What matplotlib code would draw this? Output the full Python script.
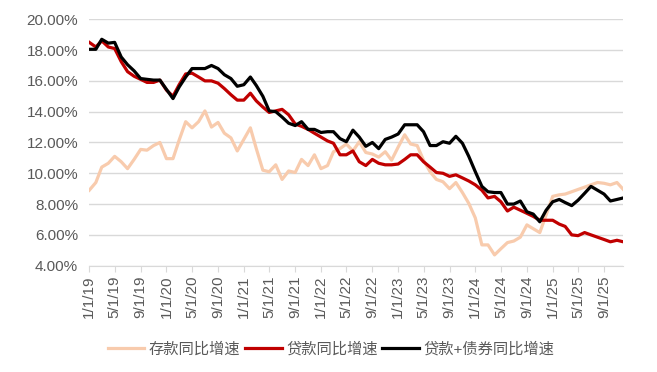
import pandas as pd
import matplotlib as mpl; mpl.use('agg')
import matplotlib.pyplot as plt

plt.rcParams['font.family'] = ['Liberation Sans', 'Noto Sans CJK SC', 'DejaVu Sans']
plt.rcParams['font.size'] = 11

months = pd.date_range('2019-01-01', periods=84, freq='MS')

deposits = [8.9, 9.4, 10.4, 10.65, 11.1, 10.75, 10.3, 10.9, 11.55, 11.5, 11.8, 12.0,
            10.95, 10.95, 12.15, 13.35, 12.95, 13.35, 14.05, 13.0, 13.3, 12.6, 12.3, 11.45,
            12.2, 12.95, 11.6, 10.2, 10.1, 10.55, 9.6, 10.15, 10.05, 10.9, 10.5, 11.2,
            10.3, 10.5, 11.4, 11.6, 11.9, 11.45, 12.05, 11.35, 11.25, 11.05, 11.4, 10.85,
            11.7, 12.5, 11.9, 11.8, 10.85, 10.1, 9.6, 9.45, 9.0, 9.4, 8.75, 8.05,
            7.1, 5.35, 5.35, 4.7, 5.1, 5.5, 5.6, 5.85, 6.65, 6.4, 6.15, 7.3,
            8.5, 8.6, 8.65, 8.8, 8.95, 9.1, 9.25, 9.4, 9.35, 9.25, 9.4, 8.95]

loans = [18.5, 18.2, 18.6, 18.2, 18.1, 17.25, 16.6, 16.3, 16.1, 15.9, 15.9, 16.05,
         15.4, 15.0, 15.75, 16.45, 16.5, 16.25, 16.0, 16.0, 15.85, 15.5, 15.1, 14.75,
         14.75, 15.2, 14.7, 14.3, 13.95, 14.05, 14.15, 13.8, 13.2, 13.05, 12.85, 12.6,
         12.35, 12.1, 11.95, 11.2, 11.2, 11.45, 10.75, 10.5, 10.9, 10.65, 10.55, 10.55,
         10.6, 10.9, 11.2, 11.2, 10.75, 10.4, 10.05, 10.0, 9.8, 9.9, 9.7, 9.5,
         9.25, 8.9, 8.4, 8.5, 8.15, 7.55, 7.8, 7.6, 7.4, 7.2, 6.95, 6.95,
         6.95, 6.7, 6.55, 6.0, 5.95, 6.15, 6.0, 5.85, 5.7, 5.55, 5.65, 5.55]

loans_bonds = [18.05, 18.05, 18.7, 18.45, 18.5, 17.55, 17.05, 16.65, 16.15, 16.1, 16.05, 16.05,
               15.45, 14.85, 15.6, 16.25, 16.8, 16.8, 16.8, 17.0, 16.8, 16.4, 16.15, 15.65,
               15.75, 16.25, 15.7, 15.0, 14.05, 14.0, 13.65, 13.25, 13.1, 13.35, 12.85, 12.85,
               12.65, 12.7, 12.7, 12.25, 12.05, 12.8, 12.35, 11.75, 12.0, 11.6, 12.2, 12.35,
               12.55, 13.15, 13.15, 13.15, 12.7, 11.8, 11.8, 12.05, 11.95, 12.4, 11.95, 11.1,
               10.1, 9.15, 8.8, 8.75, 8.75, 8.0, 8.0, 8.2, 7.5, 7.35, 6.85, 7.6,
               8.15, 8.3, 8.1, 7.9, 8.25, 8.7, 9.15, 8.9, 8.65, 8.2, 8.3, 8.4]

series_names = ['存款同比增速', '贷款同比增速', '贷款+债券同比增速']
series_colors = ['#f8cbad', '#c00000', '#000000']

tick_dates = pd.date_range('2019-01-01', '2025-09-01', freq='4MS')
tick_labels = [f"{d.month}/{d.day}/{d.year % 100}" for d in tick_dates]

fig = plt.figure(figsize=(6.57, 3.72), dpi=100)
ax = fig.add_axes([0.1359, 0.2858, 0.8128, 0.6624])

for vals, name, col in zip([deposits, loans, loans_bonds], series_names, series_colors):
    ax.plot(months, vals, color=col, lw=2.3, label=name, solid_joinstyle='round')

ax.set_ylim(4, 20)
ax.set_yticks(range(4, 21, 2))
ax.set_yticklabels([f"{v:.2f}%" for v in range(4, 21, 2)])
ax.set_xlim(months[0], months[-1])
ax.set_xticks(tick_dates)
ax.set_xticklabels(tick_labels, rotation=90)

ax.grid(axis='y', color='#d9d9d9', lw=1)
ax.set_axisbelow(True)
for s in ['top', 'right', 'left']:
    ax.spines[s].set_visible(False)
ax.spines['bottom'].set_color('#d9d9d9')
ax.tick_params(axis='y', length=0, pad=8, colors='#595959')
ax.tick_params(axis='x', length=4, color='#d9d9d9', labelcolor='#595959', pad=3)

leg = fig.legend(loc='center', bbox_to_anchor=(0.504, 0.062), ncol=3, frameon=False,
                 handlelength=2.4, handletextpad=0.3, columnspacing=0.3)
for t in leg.get_texts():
    t.set_color('#595959')

fig.savefig('out.png', dpi=100)
